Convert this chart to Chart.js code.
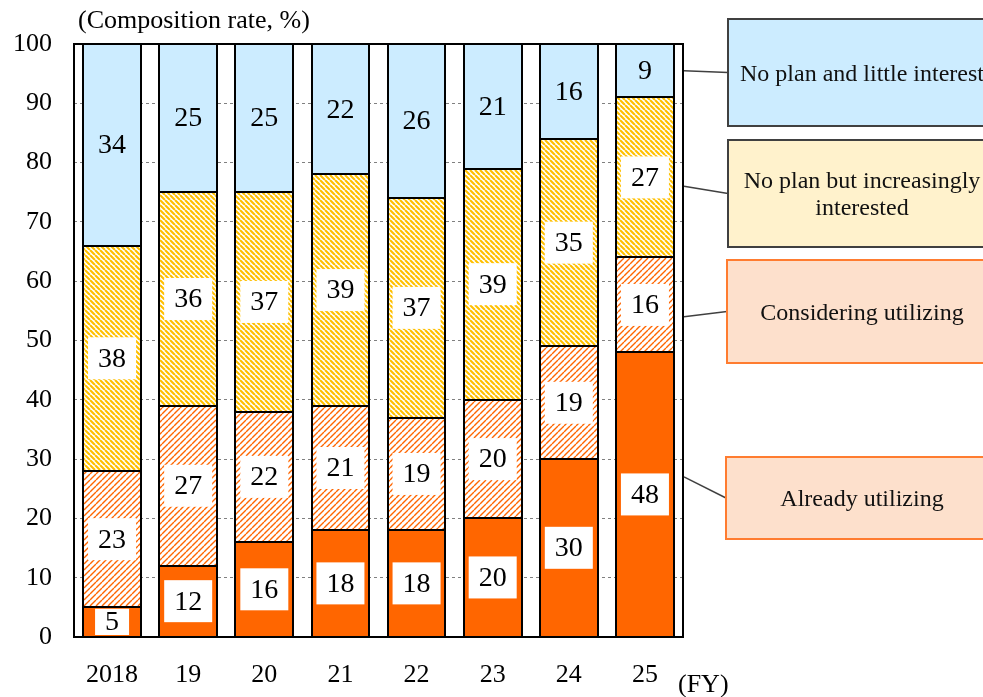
<!DOCTYPE html>
<html>
<head>
<meta charset="utf-8">
<script src="https://cdn.jsdelivr.net/npm/chart.js@4.4.1/dist/chart.umd.min.js"></script>
<style>
  html, body { margin: 0; padding: 0; background: #fff; }
  #wrap { width: 983px; height: 697px; overflow: hidden; }
</style>
</head>
<body>
<div id="wrap"><canvas id="usageChart" width="983" height="697"></canvas></div>
<script>
// Composition rate (%) by fiscal year
var years = ['2018', '19', '20', '21', '22', '23', '24', '25'];
var alreadyUtilizing       = [5, 12, 16, 18, 18, 20, 30, 48];
var consideringUtilizing   = [23, 27, 22, 21, 19, 20, 19, 16];
var increasinglyInterested = [38, 36, 37, 39, 37, 39, 35, 27];
var littleInterest         = [34, 25, 25, 22, 26, 21, 16, 9];
var seriesNames = ['Already utilizing', 'Considering utilizing', 'No plan but increasingly interested', 'No plan and little interest'];
var yMin = 0, yMax = 100, yStep = 10;
// where each callout line leaves the plot (value on the y axis, bottom series first)
var calloutAnchors = [27, 54, 76, 95.5];

var SERIF = '"Liberation Serif", "Times New Roman", serif';

var canvas = document.getElementById('usageChart');
var ctx = canvas.getContext('2d');

function hatch(color, size, width, dir) {
  var c = document.createElement('canvas');
  c.width = size;
  c.height = size;
  var g = c.getContext('2d');
  g.fillStyle = '#fff';
  g.fillRect(0, 0, size, size);
  g.strokeStyle = color;
  g.lineWidth = width;
  g.beginPath();
  for (var k = -1; k <= 1; k++) {
    if (dir === 'up') {
      g.moveTo(k * size, size);
      g.lineTo(k * size + size, 0);
    } else {
      g.moveTo(k * size, 0);
      g.lineTo(k * size + size, size);
    }
  }
  g.stroke();
  return ctx.createPattern(c, 'repeat');
}

var fills = [
  '#FF6600',
  hatch('#FF6600', 6, 1.4, 'up'),
  hatch('#FFC000', 5, 2.1, 'down'),
  '#CCECFF'
];

// legend callout boxes on the right
var callouts = [
  { top: 457, height: 82, left: 726, fill: '#FDE0CC', stroke: '#FF7C30', lines: ['Already utilizing'] },
  { top: 260, height: 103, left: 727, fill: '#FDE0CC', stroke: '#FF7C30', lines: ['Considering utilizing'] },
  { top: 140, height: 107, left: 728, fill: '#FFF2CC', stroke: '#404040', lines: ['No plan but increasingly', 'interested'] },
  { top: 19, height: 107, left: 728, fill: '#CCECFF', stroke: '#404040', lines: ['No plan and little interest'] }
];

var plotFrame = {
  id: 'plotFrame',
  afterDatasetsDraw: function (chart) {
    var a = chart.chartArea;
    var c = chart.ctx;
    c.save();
    c.strokeStyle = '#000';
    c.lineWidth = 2;
    c.strokeRect(a.left, a.top, a.right - a.left, a.bottom - a.top);
    c.restore();
  }
};

// black outline round every segment, shared edges stay one line thick
var barOutline = {
  id: 'barOutline',
  afterDatasetsDraw: function (chart) {
    var c = chart.ctx;
    c.save();
    c.strokeStyle = '#000';
    c.lineWidth = 2;
    chart.data.datasets.forEach(function (dataset, i) {
      chart.getDatasetMeta(i).data.forEach(function (bar) {
        var left = Math.round(bar.x - bar.width / 2);
        var right = Math.round(bar.x + bar.width / 2);
        var top = Math.round(Math.min(bar.y, bar.base));
        var bottom = Math.round(Math.max(bar.y, bar.base));
        c.strokeRect(left, top, right - left, bottom - top);
      });
    });
    c.restore();
  }
};

var valueLabels = {
  id: 'valueLabels',
  afterDatasetsDraw: function (chart) {
    var c = chart.ctx;
    c.save();
    c.font = '28px ' + SERIF;
    c.textAlign = 'center';
    c.textBaseline = 'middle';
    chart.data.datasets.forEach(function (dataset, i) {
      var meta = chart.getDatasetMeta(i);
      meta.data.forEach(function (bar, index) {
        var val = dataset.data[index];
        var top = Math.min(bar.y, bar.base);
        var bottom = Math.max(bar.y, bar.base);
        var cy = (top + bottom) / 2;
        var text = String(val);
        if (i < 3) {
          var w = c.measureText(text).width + 20;
          c.save();
          c.beginPath();
          c.rect(bar.x - bar.width / 2 + 2, top + 1.5, bar.width - 4, bottom - top - 3);
          c.clip();
          c.fillStyle = '#fff';
          c.fillRect(bar.x - w / 2, cy - 21, w, 42);
          c.restore();
        }
        c.fillStyle = '#000';
        c.fillText(text, bar.x, cy + 1);
      });
    });
    c.restore();
  }
};

var annotations = {
  id: 'annotations',
  afterDraw: function (chart) {
    var c = chart.ctx;
    var a = chart.chartArea;
    var y = chart.scales.y;
    c.save();
    c.fillStyle = '#000';
    c.textBaseline = 'middle';
    c.font = '26px ' + SERIF;
    c.textAlign = 'left';
    c.fillText('(Composition rate, %)', 78, 21);
    c.fillText('(FY)', 678, 685);

    callouts.forEach(function (box, i) {
      var y1 = y.getPixelForValue(calloutAnchors[i]);
      var yBox = box.top + box.height / 2;
      c.strokeStyle = '#404040';
      c.lineWidth = 1.5;
      c.beginPath();
      c.moveTo(a.right + 1, y1);
      c.lineTo(box.left, yBox);
      c.stroke();

      c.fillStyle = box.fill;
      c.fillRect(box.left, box.top, 300, box.height);
      c.strokeStyle = box.stroke;
      c.lineWidth = 2;
      c.strokeRect(box.left, box.top, 300, box.height);

      c.fillStyle = '#111';
      c.font = '24px ' + SERIF;
      c.textAlign = 'center';
      var lh = 27;
      var y0 = yBox - (box.lines.length - 1) * lh / 2 + 2;
      box.lines.forEach(function (line, k) {
        c.fillText(line, 862, y0 + k * lh);
      });
    });
    c.restore();
  }
};

var series = [alreadyUtilizing, consideringUtilizing, increasinglyInterested, littleInterest];

new Chart(ctx, {
  type: 'bar',
  data: {
    labels: years,
    datasets: series.map(function (data, i) {
      return {
        label: seriesNames[i],
        data: data,
        backgroundColor: fills[i],
        borderWidth: 0,
        borderSkipped: false,
        categoryPercentage: 1,
        barPercentage: 0.76
      };
    })
  },
  plugins: [plotFrame, barOutline, valueLabels, annotations],
  options: {
    responsive: false,
    animation: false,
    layout: { padding: { top: 44, right: 300, left: 0, bottom: 0 } },
    scales: {
      x: {
        stacked: true,
        grid: { display: false },
        border: { display: false },
        ticks: { color: '#000', font: { family: SERIF, size: 26 }, padding: 15, maxRotation: 0 },
        afterFit: function (s) { s.height = 60; }
      },
      y: {
        stacked: true,
        min: yMin,
        max: yMax,
        grid: { color: '#808080', lineWidth: 1, drawTicks: false },
        border: { display: false, dash: [3, 3] },
        ticks: { stepSize: yStep, color: '#000', font: { family: SERIF, size: 26 }, padding: 22 },
        afterFit: function (s) { s.width = 74; }
      }
    },
    plugins: {
      legend: { display: false },
      tooltip: { enabled: false }
    }
  }
});
</script>
</body>
</html>
